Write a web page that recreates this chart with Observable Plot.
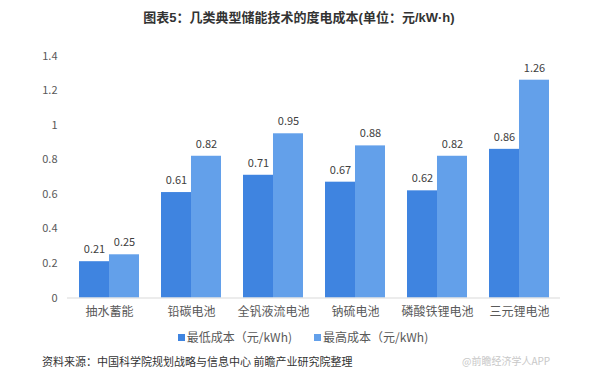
<!DOCTYPE html>
<html>
<head>
<meta charset="utf-8">
<script src="https://cdn.jsdelivr.net/npm/d3@7"></script>
<script src="https://cdn.jsdelivr.net/npm/@observablehq/plot@0.6"></script>
<style>
  html, body { margin: 0; padding: 0; background: #fff; }
  #wrap { position: relative; width: 590px; height: 380px; overflow: hidden;
          font-family: "Noto Sans CJK SC", "Noto Sans", sans-serif; }
  #title { position: absolute; left: 0; top: 9px; width: 598px; text-align: center;
           font-family: "Liberation Sans", "Noto Sans CJK SC", sans-serif;
           font-size: 13px; font-weight: bold; color: #333; line-height: 18px; }
  #chart { position: absolute; left: 0; top: 36px; }
  #legend { position: absolute; left: 0; top: 329px; width: 606px; display: flex;
            justify-content: center; gap: 22px; font-size: 12px; color: #595959; line-height: 16px; }
  #legend .item { display: flex; align-items: center; }
  #legend .sw { width: 7px; height: 7px; margin-right: 2px; display: inline-block; }
  #source { position: absolute; left: 42px; top: 353px; font-size: 11px; color: #333; line-height: 16px; }
  #wm { position: absolute; left: 462px; top: 353px; font-size: 10px; color: #c8c8c8; line-height: 16px; }
  svg [aria-label^="x-axis"] text { font-size: 12px; }
</style>
</head>
<body>
<div id="wrap">
  <div id="title">图表5：几类典型储能技术的度电成本(单位：元/kW·h)</div>
  <div id="chart"></div>
  <div id="legend"></div>
  <div id="source">资料来源：中国科学院规划战略与信息中心 前瞻产业研究院整理</div>
  <div id="wm">@前瞻经济学人APP</div>
</div>
<script>
const categories = ["抽水蓄能", "铅碳电池", "全钒液流电池", "钠硫电池", "磷酸铁锂电池", "三元锂电池"];
const lowCost = [0.21, 0.61, 0.71, 0.67, 0.62, 0.86];
const highCost = [0.25, 0.82, 0.95, 0.88, 0.82, 1.26];
const seriesNames = ["最低成本（元/kWh)", "最高成本（元/kWh)"];
const seriesColors = ["#3f84e0", "#63a0ea"];
const yTicks = [0, 0.2, 0.4, 0.6, 0.8, 1, 1.2, 1.4];

const data = categories.map((c, i) => ({category: c, low: lowCost[i], high: highCost[i]}));

const W = 590, H = 294;
const mL = 67, mR = 30, mT = 19.5, mB = 32.5;
const padInner = 0.27, padOuter = 0.135;
const step = (W - mL - mR) / (categories.length - padInner + 2 * padOuter);
const bw = step * (1 - padInner);
const half = bw / 2;

const textStyle = {fill: "#404040", fontSize: 11, dy: -12};

const chart = Plot.plot({
  width: W,
  height: H,
  marginLeft: mL,
  marginRight: mR,
  marginTop: mT,
  marginBottom: mB,
  style: {fontFamily: "'Noto Sans CJK SC', 'Noto Sans', sans-serif", fontSize: "11px", color: "#595959", background: "#fff"},
  x: {domain: categories, paddingInner: padInner, paddingOuter: padOuter, tickSize: 0, tickPadding: 9, label: null},
  y: {domain: [0, 1.4], ticks: yTicks, tickSize: 0, tickPadding: 10, tickFormat: d => String(d), label: null},
  marks: [
    Plot.barY(data, {x: "category", y: "low", fill: seriesColors[0], insetRight: half}),
    Plot.barY(data, {x: "category", y: "high", fill: seriesColors[1], insetLeft: half}),
    Plot.ruleY([0], {stroke: "#d9d9d9"}),
    Plot.text(data, {x: "category", y: "low", text: d => String(d.low), dx: -half / 2, ...textStyle}),
    Plot.text(data, {x: "category", y: "high", text: d => String(d.high), dx: half / 2, ...textStyle})
  ]
});
document.getElementById("chart").appendChild(chart);

const legend = document.getElementById("legend");
seriesNames.forEach((n, i) => {
  const item = document.createElement("span");
  item.className = "item";
  const sw = document.createElement("span");
  sw.className = "sw";
  sw.style.background = seriesColors[i];
  item.appendChild(sw);
  item.appendChild(document.createTextNode(n));
  legend.appendChild(item);
});
</script>
</body>
</html>
